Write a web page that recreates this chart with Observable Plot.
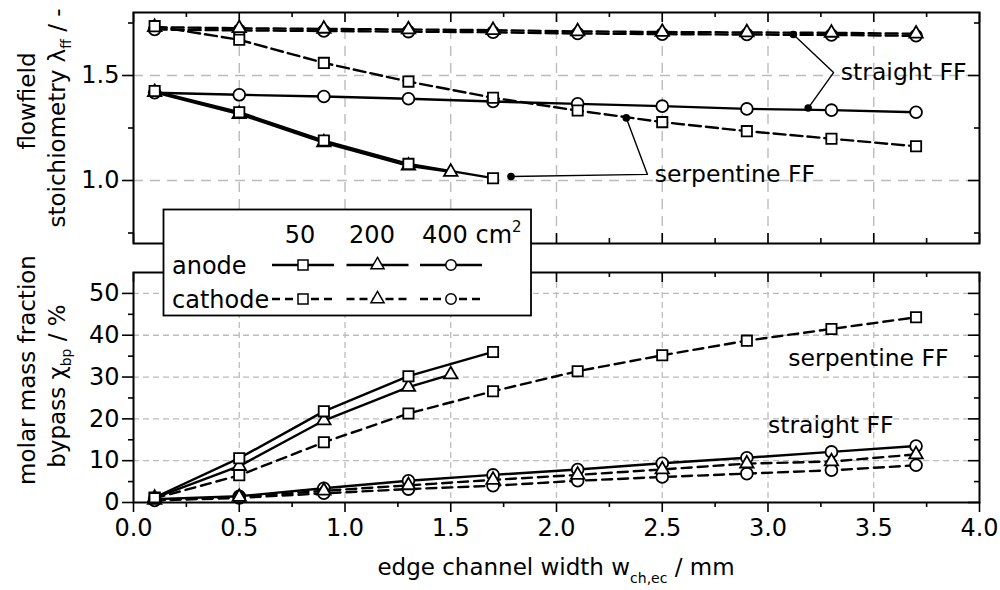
<!DOCTYPE html>
<html><head><meta charset="utf-8">
<script src="https://cdn.jsdelivr.net/npm/d3@7"></script>
<script src="https://cdn.jsdelivr.net/npm/@observablehq/plot@0.6"></script>
<style>
body{margin:0;background:#fff;}
#wrap{position:relative;width:1000px;height:590px;font-family:"DejaVu Sans",sans-serif;}
#wrap svg{position:absolute;left:0;}
</style></head><body><div id="wrap"></div>
<script>
// ---------- data ----------
const xFull = [0.1, 0.5, 0.9, 1.3, 1.7, 2.1, 2.5, 2.9, 3.3, 3.7];
const x50 = [0.1, 0.5, 0.9, 1.3, 1.7];
const x200 = [0.1, 0.5, 0.9, 1.3, 1.5];

// top panel: flowfield stoichiometry lambda_ff
const lamAnode50 = [1.426, 1.325, 1.190, 1.079, 1.011];
const lamAnode200 = [1.420, 1.316, 1.181, 1.070, 1.041];
const lamAnode400 = [1.418, 1.408, 1.400, 1.389, 1.376, 1.365, 1.354, 1.341, 1.335, 1.325];
const lamCathode50 = [1.735, 1.670, 1.560, 1.471, 1.394, 1.333, 1.278, 1.235, 1.199, 1.163];
const lamCathode200 = [1.730, 1.725, 1.722, 1.719, 1.716, 1.710, 1.707, 1.705, 1.703, 1.699];
const lamCathode400 = [1.719, 1.715, 1.712, 1.709, 1.706, 1.700, 1.697, 1.695, 1.693, 1.689];

// bottom panel: bypass molar mass fraction chi_bp / %
const chiAnode50 = [1.2, 10.6, 21.8, 30.2, 36.0];
const chiAnode200 = [1.1, 8.7, 19.6, 27.6, 30.6];
const chiAnode400 = [0.8, 1.5, 3.4, 5.2, 6.6, 7.9, 9.4, 10.7, 12.1, 13.5];
const chiCathode50 = [1.0, 6.5, 14.4, 21.3, 26.6, 31.4, 35.2, 38.7, 41.5, 44.3];
const chiCathode200 = [0.6, 1.3, 2.8, 4.1, 5.4, 6.6, 7.9, 9.3, 9.8, 11.5];
const chiCathode400 = [0.5, 1.1, 2.2, 3.2, 4.0, 5.2, 6.1, 6.9, 7.7, 8.9];

// ticks
const xTicks = [0, 0.5, 1.0, 1.5, 2.0, 2.5, 3.0, 3.5, 4.0];
const xMinor = [0.25, 0.75, 1.25, 1.75, 2.25, 2.75, 3.25, 3.75];
const lamTicks = [1.0, 1.5];
const lamMinor = [0.75, 1.25, 1.75];
const chiTicks = [0, 10, 20, 30, 40, 50];
const chiMinor = [5, 15, 25, 35, 45];

// annotations (leader polylines: first and last points get a dot)
const annLamStraightX = [3.12, 3.31, 3.19];
const annLamStraightY = [1.695, 1.514, 1.345];
const annLamSerpX = [2.33, 2.43, 1.785];
const annLamSerpY = [1.298, 1.029, 1.019];
const annLamLabels = [{x: 3.335, y: 1.514, t: "straight FF"}, {x: 2.455, y: 1.029, t: "serpentine FF"}];
const annChiLabels = [{x: 3.096, y: 34.5, t: "serpentine FF"}, {x: 3.0, y: 18.4, t: "straight FF"}];

// ---------- build rows ----------
function rows(side, area, xs, ys) {
  return xs.map((x, i) => ({x, y: ys[i], side, area, key: side + area}));
}
const lamRows = [
  ...rows("anode", "50", x50, lamAnode50),
  ...rows("anode", "200", x200, lamAnode200),
  ...rows("anode", "400", xFull, lamAnode400),
  ...rows("cathode", "50", xFull, lamCathode50),
  ...rows("cathode", "200", xFull, lamCathode200),
  ...rows("cathode", "400", xFull, lamCathode400)
];
const chiRows = [
  ...rows("anode", "50", x50, chiAnode50),
  ...rows("anode", "200", x200, chiAnode200),
  ...rows("anode", "400", xFull, chiAnode400),
  ...rows("cathode", "50", xFull, chiCathode50),
  ...rows("cathode", "200", xFull, chiCathode200),
  ...rows("cathode", "400", xFull, chiCathode400)
];
const poly = (xs, ys) => xs.map((x, i) => ({x, y: ys[i]}));
const ends = (p) => [p[0], p[p.length - 1]];

// ---------- layout ----------
const W = 1000, ML = 133, MR = 21;
const innerW = W - ML - MR;
const topH = 250, topMT = 12, topMB = 7;
const botH = 340, botMT = 22, botMB = 88;
const topInnerH = topH - topMT - topMB;
const botInnerH = botH - botMT - botMB;
const gridColor = "#bcbcbc";

function seriesMarks(data, dash) {
  const marks = [
    Plot.line(data.filter(d => d.side === "cathode"), {x: "x", y: "y", z: "key", stroke: "black", strokeWidth: 2.4, strokeDasharray: dash}),
    Plot.line(data.filter(d => d.side === "anode"), {x: "x", y: "y", z: "key", stroke: "black", strokeWidth: 2.4})
  ];
  const sym = {"50": ["square", 5.8], "200": ["triangle", 5.0], "400": ["circle", 5.9]};
  for (const a of ["400", "200", "50"]) {
    marks.push(Plot.dot(data.filter(d => d.area === a), {x: "x", y: "y", symbol: () => sym[a][0], r: sym[a][1], fill: "white", stroke: "black", strokeWidth: 1.8}));
  }
  return marks;
}

function frameTicks(innerH, yTicks, yMinor, fmt, inwardBottom) {
  const m = [
    Plot.ruleX(xTicks, {x: d => d, insetBottom: innerH - 10, strokeWidth: 1.6}),
    Plot.ruleX(xMinor, {x: d => d, insetBottom: innerH - 5, strokeWidth: 1.6}),
    Plot.ruleY(yTicks, {y: d => d, insetLeft: innerW - 11, strokeWidth: 1.6}),
    Plot.ruleY(yMinor, {y: d => d, insetLeft: innerW - 5, strokeWidth: 1.6}),
    Plot.axisY(yTicks, {tickSize: 11, tickPadding: 3, tickFormat: fmt, label: null, strokeWidth: 1.6}),
    Plot.axisY(yMinor, {tickSize: 5, tickFormat: () => "", label: null, strokeWidth: 1.6})
  ];
  if (inwardBottom) {
    m.push(Plot.ruleX(xTicks, {x: d => d, insetTop: innerH - 10, strokeWidth: 1.6}));
    m.push(Plot.ruleX(xMinor, {x: d => d, insetTop: innerH - 5, strokeWidth: 1.6}));
  }
  return m;
}

const style = {fontFamily: "DejaVu Sans", fontSize: "24px", color: "black", background: "transparent", overflow: "visible"};

const topPlot = Plot.plot({
  width: W, height: topH, marginLeft: ML, marginRight: MR, marginTop: topMT, marginBottom: topMB,
  x: {domain: [0, 4], axis: null}, y: {domain: [0.7, 1.8], axis: null},
  style,
  marks: [
    Plot.gridX(xTicks.slice(1, -1), {stroke: gridColor, strokeOpacity: 1, strokeWidth: 1.4, strokeDasharray: "10,7"}),
    Plot.gridY(lamTicks, {stroke: gridColor, strokeOpacity: 1, strokeWidth: 1.4, strokeDasharray: "10,7"}),
    ...seriesMarks(lamRows, "12,5"),
    Plot.line(poly(annLamStraightX, annLamStraightY), {x: "x", y: "y", stroke: "black", strokeWidth: 1.4}),
    Plot.line(poly(annLamSerpX, annLamSerpY), {x: "x", y: "y", stroke: "black", strokeWidth: 1.4}),
    Plot.dot([...ends(poly(annLamStraightX, annLamStraightY)), ...ends(poly(annLamSerpX, annLamSerpY))], {x: "x", y: "y", r: 3.8, fill: "black"}),
    Plot.text(annLamLabels, {x: "x", y: "y", text: "t", textAnchor: "start", dx: 2, fontSize: 23.5, fill: "black"}),
    ...frameTicks(topInnerH, lamTicks, lamMinor, d3.format(".1f"), true),
    Plot.frame({stroke: "black", strokeWidth: 2})
  ]
});

const botPlot = Plot.plot({
  width: W, height: botH, marginLeft: ML, marginRight: MR, marginTop: botMT, marginBottom: botMB,
  x: {domain: [0, 4], axis: null}, y: {domain: [0, 55], axis: null},
  style,
  marks: [
    Plot.gridX(xTicks.slice(1, -1), {stroke: gridColor, strokeOpacity: 1, strokeWidth: 1.3, strokeDasharray: "6,4"}),
    Plot.gridY(chiTicks.slice(1), {stroke: gridColor, strokeOpacity: 1, strokeWidth: 1.3, strokeDasharray: "6,4"}),
    ...seriesMarks(chiRows, "10,6"),
    Plot.text(annChiLabels, {x: "x", y: "y", text: "t", textAnchor: "start", fontSize: 23.5, fill: "black"}),
    ...frameTicks(botInnerH, chiTicks, chiMinor, d => String(d), false),
    Plot.axisX(xTicks, {tickSize: 10, tickPadding: 6, tickFormat: d3.format(".1f"), label: null, strokeWidth: 1.6}),
    Plot.axisX(xMinor, {tickSize: 5, tickFormat: () => "", label: null, strokeWidth: 1.6}),
    Plot.frame({stroke: "black", strokeWidth: 2})
  ]
});

const wrap = document.getElementById("wrap");
topPlot.style.top = "0px";
botPlot.style.top = topH + "px";
wrap.appendChild(topPlot);
wrap.appendChild(botPlot);

// ---------- overlay: axis titles and legend ----------
const ov = d3.select(wrap).append("svg")
  .attr("width", W).attr("height", 590)
  .style("top", "0px").style("pointer-events", "none")
  .attr("font-family", "DejaVu Sans").attr("fill", "black");

function rotTitle(x, y, parts) {
  const t = ov.append("text").attr("transform", `translate(${x},${y}) rotate(-90)`)
    .attr("text-anchor", "middle").attr("font-size", 23);
  for (const p of parts) {
    const s = t.append("tspan").text(p.t);
    if (p.sub) s.attr("font-size", p.sub > 0 ? 14 : 23).attr("dy", p.sub);
  }
}
rotTitle(35, 101, [{t: "flowfield"}]);
rotTitle(65, 118, [{t: "stoichiometry λ"}, {t: "ff", sub: 6}, {t: " / -", sub: -6}]);
rotTitle(35, 370, [{t: "molar mass fraction"}]);
rotTitle(65, 386, [{t: "bypass χ"}, {t: "bp", sub: 6}, {t: " / %", sub: -6}]);

const xt = ov.append("text").attr("x", 556).attr("y", 575).attr("text-anchor", "middle").attr("font-size", 23);
xt.append("tspan").text("edge channel width w");
xt.append("tspan").text("ch,ec").attr("font-size", 14).attr("dy", 8);
xt.append("tspan").text(" / mm").attr("dy", -8);

// legend
const lg = ov.append("g");
lg.append("rect").attr("x", 163.5).attr("y", 209.5).attr("width", 367.5).attr("height", 106)
  .attr("fill", "white").attr("stroke", "black").attr("stroke-width", 1.8);
const legAreas = ["50", "200", "400"];
const legCols = [303, 377.5, 451];
const legSym = {"50": d3.symbolSquare, "200": d3.symbolTriangle, "400": d3.symbolCircle};
const legSize = {"50": 100, "200": 75, "400": 85};
lg.append("text").attr("x", 300).attr("y", 242.5).attr("text-anchor", "middle").attr("font-size", 24).text("50");
lg.append("text").attr("x", 372).attr("y", 242.5).attr("text-anchor", "middle").attr("font-size", 24).text("200");
const c4 = lg.append("text").attr("x", 422).attr("y", 242.5).attr("font-size", 24);
c4.append("tspan").text("400 cm");
c4.append("tspan").text("2").attr("font-size", 15).attr("dy", -11);
const legRows = [{side: "anode", y: 265, ty: 273.5, dash: null}, {side: "cathode", y: 299, ty: 307.5, dash: "8,5"}];
for (const r of legRows) {
  lg.append("text").attr("x", 172).attr("y", r.ty).attr("font-size", 24).text(r.side);
  legAreas.forEach((a, i) => {
    const cx = legCols[i];
    lg.append("line").attr("x1", cx - 31).attr("x2", cx + 31).attr("y1", r.y).attr("y2", r.y)
      .attr("stroke", "black").attr("stroke-width", 2.4).attr("stroke-dasharray", r.dash);
    lg.append("path").attr("d", d3.symbol(legSym[a], legSize[a])()).attr("transform", `translate(${cx},${r.y})`)
      .attr("fill", "white").attr("stroke", "black").attr("stroke-width", 1.5);
  });
}
</script></body></html>
